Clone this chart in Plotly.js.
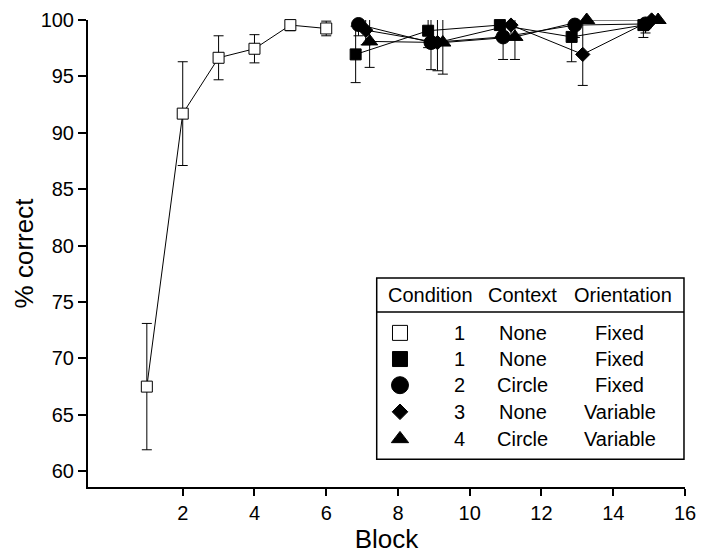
<!DOCTYPE html>
<html>
<head>
<meta charset="utf-8">
<script src="https://cdn.plot.ly/plotly-3.0.1.min.js"></script>
<style>html,body{margin:0;padding:0;background:#fff;}#chart{width:701px;height:554px;}</style>
</head>
<body>
<div id="chart"></div>
<script>
// Training phase (condition 1, open squares)
const trainBlocks = [1, 2, 3, 4, 5, 6];
const trainPct = [67.5, 91.7, 96.65, 97.45, 99.55, 99.25];
const trainErr = [5.6, 4.6, 1.95, 1.25, 0.5, 0.65];

// Transfer phase: block positions (slightly jittered per condition), % correct, error
const sqFilledBlocks = [6.82, 8.84, 10.84, 12.84, 14.84];
const sqFilledPct = [96.95, 99.05, 99.55, 98.5, 99.55];
const sqFilledErr = [2.5, 1.5, 1.0, 2.2, 1.1];

const circleBlocks = [6.9, 8.92, 10.93, 12.93, 14.9];
const circlePct = [99.6, 98.0, 98.5, 99.55, 99.65];
const circleErr = [1.0, 2.4, 2.0, 1.1, 0.8];

const diamondBlocks = [7.1, 9.1, 11.15, 13.15, 15.07];
const diamondPct = [99.1, 98.0, 99.55, 96.95, 100];
const diamondErr = [1.3, 2.5, 1.0, 2.75, 0];

const triangleBlocks = [7.21, 9.25, 11.26, 13.26, 15.25];
const trianglePct = [98.1, 98.0, 98.5, 100, 100];
const triangleErr = [2.3, 2.8, 2.0, 0, 0];

// Legend table
const legendHeader = ["Condition", "Context", "Orientation"];
const legendCondition = ["1", "1", "2", "3", "4"];
const legendContext = ["None", "None", "Circle", "None", "Circle"];
const legendOrientation = ["Fixed", "Fixed", "Fixed", "Variable", "Variable"];

const yTicks = [60, 65, 70, 75, 80, 85, 90, 95, 100];
const xTicks = [2, 4, 6, 8, 10, 12, 14, 16];

const FONT = "Liberation Sans, Arial, Helvetica, sans-serif";

function errBar(arr) {
  return {type: 'data', array: arr, visible: true, color: '#000', thickness: 1, width: 5};
}

function series(x, y, e, symbol, size, fill) {
  return {
    type: 'scatter', mode: 'lines+markers', x: x, y: y,
    error_y: errBar(e),
    line: {color: '#000', width: 1},
    marker: {symbol: symbol, size: size, color: fill, line: {color: '#000', width: 1}},
    cliponaxis: false, showlegend: false, hoverinfo: 'skip'
  };
}

const traces = [
  series(trainBlocks, trainPct, trainErr, 'square', 11, '#fff'),
  series(sqFilledBlocks, sqFilledPct, sqFilledErr, 'square', 11, '#000'),
  series(circleBlocks, circlePct, circleErr, 'circle', 14, '#000'),
  series(diamondBlocks, diamondPct, diamondErr, 'diamond', 11, '#000'),
  series(triangleBlocks, trianglePct, triangleErr, 'triangle-up', 14, '#000')
];

// legend geometry in paper units
const legL = 0.4836, legR = 0.9983, legT = 0.4475, legB = 0.0593, legSep = 0.375;
const headerY = 0.411;
const rowY = [0.33, 0.274, 0.218, 0.161, 0.103];
const colSym = 0.5226, colNum = 0.623, colCtx = 0.7286, colOri = 0.891;
const headerX = [0.5729, 0.7286, 0.896];

const legSymbols = ['square', 'square', 'circle', 'diamond', 'triangle-up'];
const legFills = ['#fff', '#000', '#000', '#000', '#000'];
const legSizes = [15, 15, 17, 12, 15];

rowY.forEach((y, i) => traces.push({
  type: 'scatter', mode: 'markers', xaxis: 'x2', yaxis: 'y2',
  x: [colSym], y: [y],
  marker: {symbol: legSymbols[i], size: legSizes[i], color: legFills[i], opacity: 1,
    line: {color: '#000', width: 1}},
  cliponaxis: false, showlegend: false, hoverinfo: 'skip'
}));

const annotations = [];
legendHeader.forEach((t, i) => annotations.push({
  xref: 'paper', yref: 'paper', x: headerX[i], y: headerY, text: t, showarrow: false,
  xanchor: 'center', yanchor: 'middle', font: {family: FONT, size: 20, color: '#000'}
}));
rowY.forEach((y, i) => {
  [[colNum, legendCondition[i]], [colCtx, legendContext[i]], [colOri, legendOrientation[i]]].forEach(([x, t]) => {
    annotations.push({xref: 'paper', yref: 'paper', x: x, y: y, text: t, showarrow: false,
      xanchor: 'center', yanchor: 'middle', font: {family: FONT, size: 20, color: '#000'}});
  });
});

const layout = {
  width: 701, height: 554,
  margin: {l: 88, r: 16, t: 20, b: 67},
  paper_bgcolor: '#fff', plot_bgcolor: '#fff',
  font: {family: FONT, color: '#000', size: 20},
  showlegend: false,
  xaxis: {
    range: [-0.64, 16], tickvals: xTicks, ticks: 'outside', ticklen: 7, tickwidth: 2, tickcolor: '#000',
    showline: true, linewidth: 2, linecolor: '#000', showgrid: false, zeroline: false,
    tickfont: {family: FONT, size: 20, color: '#000'},
    title: {text: 'Block', font: {family: FONT, size: 26, color: '#000'}, standoff: 3}
  },
  yaxis: {
    range: [58.6, 100], tickvals: yTicks, ticks: 'outside', ticklen: 8, tickwidth: 2, tickcolor: '#000',
    showline: true, linewidth: 2, linecolor: '#000', showgrid: false, zeroline: false,
    tickfont: {family: FONT, size: 20, color: '#000'},
    title: {text: '% correct', font: {family: FONT, size: 26, color: '#000'}, standoff: 0}
  },
  xaxis2: {overlaying: 'x', range: [0, 1], visible: false, fixedrange: true},
  yaxis2: {overlaying: 'y', range: [0, 1], visible: false, fixedrange: true},
  shapes: [
    {type: 'rect', xref: 'paper', yref: 'paper', x0: legL, x1: legR, y0: legB, y1: legT,
      line: {color: '#000', width: 1.5}, fillcolor: 'rgba(0,0,0,0)', layer: 'below'},
    {type: 'line', xref: 'paper', yref: 'paper', x0: legL, x1: legR, y0: legSep, y1: legSep,
      line: {color: '#000', width: 1.5}}
  ],
  annotations: annotations
};

Plotly.newPlot('chart', traces, layout, {staticPlot: true, displayModeBar: false});
</script>
</body>
</html>
